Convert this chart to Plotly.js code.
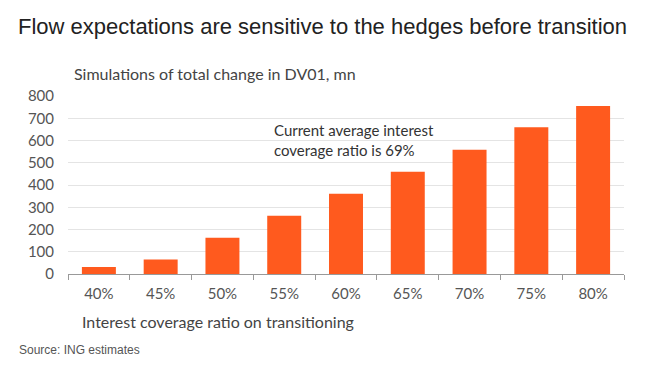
<!DOCTYPE html>
<html>
<head>
<meta charset="utf-8">
<script src="https://cdn.plot.ly/plotly-3.0.1.min.js"></script>
<style>html,body{margin:0;padding:0;background:#fff;}#chart{width:659px;height:390px;}</style>
</head>
<body>
<div id="chart"></div>
<script>
const categories = ["40%", "45%", "50%", "55%", "60%", "65%", "70%", "75%", "80%"];
const dv01Change = [32, 65, 163, 262, 361, 460, 558, 660, 755];
const yTicks = [0, 100, 200, 300, 400, 500, 600, 700, 800];

const W = 659, H = 390;
const L = 68, R = 624, T = 96, B = 274;
const pw = R - L, ph = B - T;
const px = x => (x - L) / pw;
const py = y => (B - y) / ph;
const bodyFont = "Lato, 'Open Sans', sans-serif";

const data = [{
  type: "bar",
  x: categories,
  y: dv01Change,
  marker: {color: "#ff5a1e"},
  hoverinfo: "x+y"
}];

const layout = {
  width: W, height: H,
  margin: {l: L, r: W - R, t: T, b: H - B, pad: 0},
  paper_bgcolor: "#fff",
  plot_bgcolor: "#fff",
  showlegend: false,
  bargap: 0.45,
  title: {
    text: "Flow expectations are sensitive to the hedges before transition",
    x: 18 / W, xanchor: "left",
    y: 1 - 26 / H, yanchor: "middle",
    font: {family: "Arial, 'Liberation Sans', sans-serif", size: 22, color: "#222"}
  },
  xaxis: {
    type: "category",
    tickson: "boundaries",
    ticks: "outside",
    ticklen: 5,
    tickcolor: "#999",
    showline: true,
    linecolor: "#999",
    linewidth: 1,
    showgrid: false,
    ticklabelstandoff: 6,
    tickfont: {family: bodyFont, size: 15, color: "#555"},
    fixedrange: true
  },
  yaxis: {
    range: [0, 800],
    tickvals: yTicks,
    ticktext: yTicks.map(String),
    showgrid: true,
    gridcolor: "#e4e4e4",
    gridwidth: 1,
    zeroline: false,
    ticks: "",
    ticklabelstandoff: 13,
    tickfont: {family: bodyFont, size: 15, color: "#555"},
    fixedrange: true
  },
  annotations: [
    {
      text: "Simulations of total change in DV01, mn",
      xref: "paper", yref: "paper",
      x: px(72), y: py(74), xanchor: "left", yanchor: "middle",
      showarrow: false,
      font: {family: bodyFont, size: 16, color: "#444"}
    },
    {
      text: "Current average interest<br>coverage ratio is 69%",
      xref: "paper", yref: "paper",
      x: px(272), y: py(140), xanchor: "left", yanchor: "middle",
      align: "left",
      showarrow: false,
      font: {family: bodyFont, size: 15, color: "#333"}
    },
    {
      text: "Interest coverage ratio on transitioning",
      xref: "paper", yref: "paper",
      x: px(80), y: py(321), xanchor: "left", yanchor: "middle",
      showarrow: false,
      font: {family: bodyFont, size: 16, color: "#444"}
    },
    {
      text: "Source: ING estimates",
      xref: "paper", yref: "paper",
      x: px(17), y: py(350), xanchor: "left", yanchor: "middle",
      showarrow: false,
      font: {family: "Arial, 'Liberation Sans', sans-serif", size: 12, color: "#555"}
    }
  ]
};

Plotly.newPlot("chart", data, layout, {displayModeBar: false, staticPlot: true});
</script>
</body>
</html>
